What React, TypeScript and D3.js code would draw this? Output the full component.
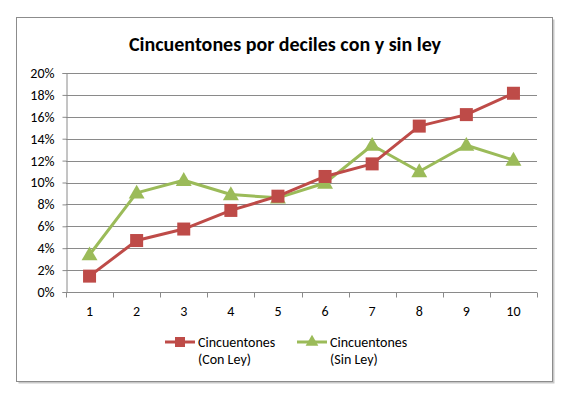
import React, { useRef, useEffect } from 'react';
import * as d3 from 'd3';

const deciles = ['1', '2', '3', '4', '5', '6', '7', '8', '9', '10'];
const conLey = [1.45, 4.7, 5.75, 7.45, 8.75, 10.55, 11.7, 15.15, 16.2, 18.15];
const sinLey = [3.4, 9.05, 10.2, 8.9, 8.6, 9.95, 13.4, 11.0, 13.4, 12.05];
const yTicks = [0, 2, 4, 6, 8, 10, 12, 14, 16, 18, 20];

const W = 569;
const H = 397;
const FONT = 'Carlito, Calibri, "Open Sans", sans-serif';
const RED = '#BE4B48';
const GREEN = '#9BBB59';

const App = () => {
  const ref = useRef<SVGSVGElement>(null);

  useEffect(() => {
    const svg = d3.select(ref.current);
    svg.selectAll('*').remove();

    // outer frame with a light shadow
    svg.append('rect').attr('x', 18.5).attr('y', 19.5).attr('width', 536).attr('height', 364)
      .attr('fill', '#c8c8c8');
    svg.append('rect').attr('x', 16.5).attr('y', 17.5).attr('width', 536).attr('height', 364)
      .attr('fill', '#fff').attr('stroke', '#8c8c8c');

    svg.append('text')
      .attr('x', 285).attr('y', 51)
      .attr('text-anchor', 'middle')
      .style('font-family', FONT).style('font-size', '20px').style('font-weight', 'bold')
      .text('Cincuentones por deciles con y sin ley');

    const left = 66, right = 537, top = 73, bottom = 292;
    const x = d3.scaleBand().domain(deciles).range([left, right]);
    const y = d3.scaleLinear().domain([0, 20]).range([bottom, top]);

    const g = svg.append('g');

    // gridlines
    g.selectAll('line.grid').data(yTicks.filter(t => t > 0)).enter().append('line')
      .attr('x1', left).attr('x2', right)
      .attr('y1', d => Math.round(y(d)) + 0.5).attr('y2', d => Math.round(y(d)) + 0.5)
      .attr('stroke', '#8a8a8a').attr('stroke-width', 1);

    // y axis
    const yAxis = g.append('g').attr('transform', `translate(${left + 0.5},0)`)
      .call(d3.axisLeft(y).tickValues(yTicks).tickSize(4).tickPadding(8).tickFormat(d => `${d}%`));
    yAxis.select('.domain').attr('stroke', '#8a8a8a');
    yAxis.selectAll('line').attr('stroke', '#8a8a8a');
    yAxis.selectAll('text').style('font-family', FONT).style('font-size', '14px').attr('fill', '#000');

    // x axis
    const xAxis = g.append('g').attr('transform', `translate(0,${bottom + 0.5})`);
    xAxis.append('line').attr('x1', left).attr('x2', right).attr('stroke', '#8a8a8a');
    const bounds = deciles.map(d => x(d)!).concat([right]);
    xAxis.selectAll('line.tk').data(bounds).enter().append('line')
      .attr('x1', d => Math.round(d) + 0.5).attr('x2', d => Math.round(d) + 0.5)
      .attr('y1', 0).attr('y2', 5).attr('stroke', '#8a8a8a');
    xAxis.selectAll('text').data(deciles).enter().append('text')
      .attr('x', d => x(d)! + x.bandwidth() / 2).attr('y', 23)
      .attr('text-anchor', 'middle')
      .style('font-family', FONT).style('font-size', '14px')
      .text(d => d);

    const cx = (i: number) => x(deciles[i])! + x.bandwidth() / 2;
    const line = d3.line<number>().x((_, i) => cx(i)).y(v => y(v));
    const tri = d3.symbol().type(d3.symbolTriangle).size(110);

    g.append('path').datum(sinLey).attr('d', line).attr('fill', 'none')
      .attr('stroke', GREEN).attr('stroke-width', 3).attr('stroke-linejoin', 'round');
    g.selectAll('path.tri').data(sinLey).enter().append('path')
      .attr('d', tri).attr('transform', (v, i) => `translate(${cx(i)},${y(v) + 1})`)
      .attr('fill', GREEN);

    g.append('path').datum(conLey).attr('d', line).attr('fill', 'none')
      .attr('stroke', RED).attr('stroke-width', 3).attr('stroke-linejoin', 'round');
    g.selectAll('rect.sq').data(conLey).enter().append('rect')
      .attr('x', (v, i) => cx(i) - 6.5).attr('y', v => y(v) - 6.5)
      .attr('width', 13).attr('height', 13).attr('fill', RED);

    // legend
    const lg = svg.append('g');
    const items = [
      { color: RED, kind: 'sq', x: 165, lines: ['Cincuentones', '(Con Ley)'] },
      { color: GREEN, kind: 'tri', x: 297, lines: ['Cincuentones', '(Sin Ley)'] },
    ];
    items.forEach(it => {
      lg.append('line').attr('x1', it.x).attr('x2', it.x + 30).attr('y1', 342).attr('y2', 342)
        .attr('stroke', it.color).attr('stroke-width', 3);
      if (it.kind === 'sq') {
        lg.append('rect').attr('x', it.x + 10).attr('y', 337).attr('width', 10).attr('height', 10).attr('fill', it.color);
      } else {
        lg.append('path').attr('d', d3.symbol().type(d3.symbolTriangle).size(70)())
          .attr('transform', `translate(${it.x + 15},342)`).attr('fill', it.color);
      }
      it.lines.forEach((t, k) => {
        lg.append('text').attr('x', it.x + 33).attr('y', 347 + k * 17)
          .style('font-family', FONT).style('font-size', '14px').text(t);
      });
    });
  }, []);

  return (
    <svg ref={ref} width={W} height={H}
      style={{ position: 'absolute', left: 0, top: 0, background: '#fff' }} />
  );
};

export default App;
